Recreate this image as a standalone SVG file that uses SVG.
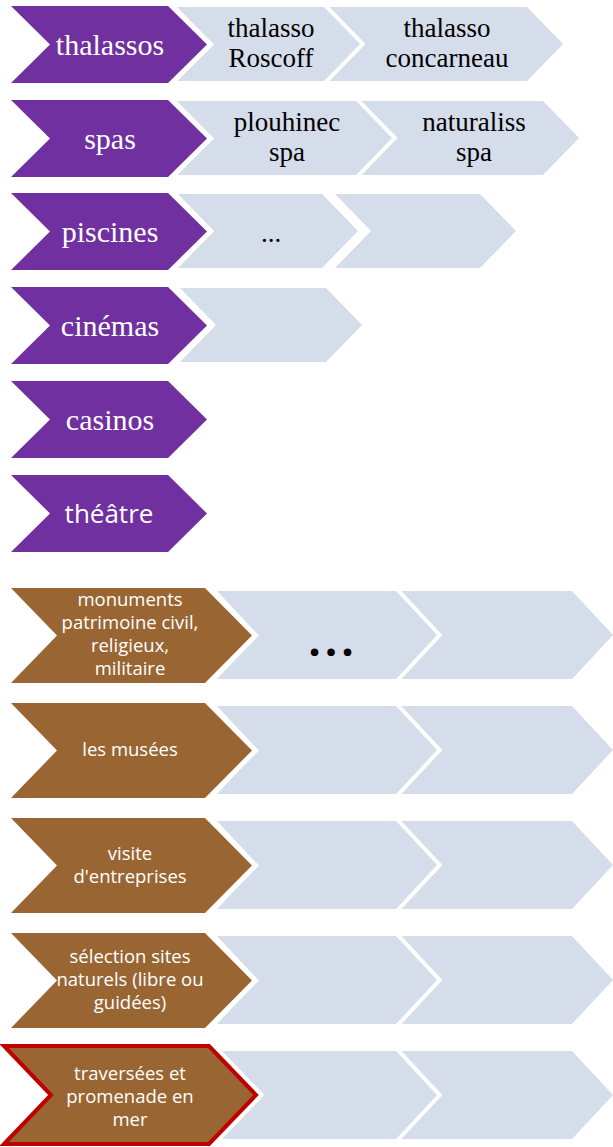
<svg xmlns="http://www.w3.org/2000/svg" width="613" height="1147" viewBox="0 0 613 1147">
<style>
.pur{fill:#7030A0;stroke:#fff;stroke-width:10;paint-order:stroke;stroke-linejoin:miter}
.brn{fill:#996633;stroke:#fff;stroke-width:10;paint-order:stroke}
.lt{fill:#D5DCEA}
.ltf{fill:#D5DCEA;stroke:#fff;stroke-width:8;paint-order:stroke}
.ser{font-family:"Liberation Serif","Times New Roman",serif;text-anchor:middle}
.sw{fill:#fff;font-size:30px}
.sb{fill:#000;font-size:27px}
.sans{font-family:"Open Sans","Liberation Sans",sans-serif;text-anchor:middle;fill:#fff}
.bt{font-size:18.5px}
</style>
<rect width="613" height="1147" fill="#fff"/>
<g id="connectors"/>

<!-- Row 1 thalassos -->
<g id="row-thalassos">
<polygon class="lt" points="320,7 527,7 563,44 527,81 320,81 356,44"/>
<polygon class="ltf" points="177,7 324,7 360,44 324,81 177,81 213,44"/>
<polygon class="pur" points="11,6 168,6 207,44.5 168,83 11,83 50,44.5"/>
<text class="ser sw" x="110" y="55">thalassos</text>
<text class="ser sb" x="271" y="37">thalasso</text>
<text class="ser sb" x="271" y="67">Roscoff</text>
<text class="ser sb" x="447" y="37">thalasso</text>
<text class="ser sb" x="447" y="67">concarneau</text>
</g>

<!-- Row 2 spas -->
<g id="row-spas">
<polygon class="lt" points="355,101 543,101 579,138 543,175 355,175 391,138"/>
<polygon class="ltf" points="177,101 356,101 392,138 356,175 177,175 213,138"/>
<polygon class="pur" points="11,100 168,100 207,138.5 168,177 11,177 50,138.5"/>
<text class="ser sw" x="110" y="149">spas</text>
<text class="ser sb" x="287" y="131">plouhinec</text>
<text class="ser sb" x="287" y="161">spa</text>
<text class="ser sb" x="474" y="131">naturaliss</text>
<text class="ser sb" x="474" y="161">spa</text>
</g>

<!-- Row 3 piscines -->
<g id="row-piscines">
<polygon class="lt" points="335,194 480,194 516,231 480,268 335,268 371,231"/>
<polygon class="ltf" points="178,194 322,194 358,231 322,268 178,268 214,231"/>
<polygon class="pur" points="11,193 168,193 207,231.5 168,270 11,270 50,231.5"/>
<text class="ser sw" x="110" y="242">piscines</text>
<text class="ser sb" x="271" y="242">...</text>
</g>

<!-- Row 4 cinémas -->
<g id="row-cinemas">
<polygon class="lt" points="180,288 326,288 362,325 326,362 180,362 216,325"/>
<polygon class="pur" points="11,287 168,287 207,325.5 168,364 11,364 50,325.5"/>
<text class="ser sw" x="110" y="336">cinémas</text>
</g>

<!-- Row 5 casinos -->
<g id="row-casinos">
<polygon class="pur" points="11,381 168,381 207,419.5 168,458 11,458 50,419.5"/>
<text class="ser sw" x="110" y="430">casinos</text>
</g>

<!-- Row 6 théâtre -->
<g id="row-theatre">
<polygon class="pur" points="11,475 168,475 207,513.5 168,552 11,552 50,513.5"/>
<text class="sans" style="font-size:26px" x="109" y="523">théâtre</text>
</g>

<!-- Bottom section -->
<g id="row-monuments">
<polygon class="lt" points="392,591 572,591 613,635 572,679 392,679 433,635"/>
<polygon class="ltf" points="217,591 396,591 437,635 396,679 217,679 258,635"/>
<polygon class="brn" points="11,588 205,588 252,635.5 205,683 11,683 57,635.5"/>
<text class="sans bt" x="130" y="606">monuments</text>
<text class="sans bt" x="130" y="629">patrimoine civil,</text>
<text class="sans bt" x="130" y="652">religieux,</text>
<text class="sans bt" x="130" y="675">militaire</text>
<text x="333" y="656" style="font-family:'Open Sans','Liberation Sans',sans-serif;font-weight:bold;font-size:44px;letter-spacing:4px;text-anchor:middle;fill:#000">...</text>
</g>

<g id="row-musees">
<polygon class="lt" points="392,706 572,706 613,750 572,794 392,794 433,750"/>
<polygon class="ltf" points="217,706 396,706 437,750 396,794 217,794 258,750"/>
<polygon class="brn" points="11,703 205,703 252,750.5 205,798 11,798 57,750.5"/>
<text class="sans bt" x="130" y="756">les musées</text>
</g>

<g id="row-entreprises">
<polygon class="lt" points="392,821 572,821 613,865 572,909 392,909 433,865"/>
<polygon class="ltf" points="217,821 396,821 437,865 396,909 217,909 258,865"/>
<polygon class="brn" points="11,818 205,818 252,865.5 205,913 11,913 57,865.5"/>
<text class="sans bt" x="130" y="860">visite</text>
<text class="sans bt" x="130" y="883">d'entreprises</text>
</g>

<g id="row-sites">
<polygon class="lt" points="392,936 572,936 613,980 572,1024 392,1024 433,980"/>
<polygon class="ltf" points="217,936 396,936 437,980 396,1024 217,1024 258,980"/>
<polygon class="brn" points="11,933 205,933 252,980.5 205,1028 11,1028 57,980.5"/>
<text class="sans bt" x="130" y="963">sélection sites</text>
<text class="sans bt" x="130" y="986">naturels (libre ou</text>
<text class="sans bt" x="130" y="1009">guidées)</text>
</g>

<g id="row-traversees">
<polygon class="lt" points="392,1051 572,1051 613,1095 572,1139 392,1139 433,1095"/>
<polygon class="ltf" points="217,1051 396,1051 437,1095 396,1139 217,1139 258,1095"/>
<polygon points="4,1046 209,1046 256,1095 209,1144 4,1144 51,1095" fill="none" stroke="#fff" stroke-width="12"/>
<polygon points="4,1046 209,1046 256,1095 209,1144 4,1144 51,1095" fill="#996633" stroke="#C00000" stroke-width="4"/>
<text class="sans bt" x="130" y="1080">traversées et</text>
<text class="sans bt" x="130" y="1103">promenade en</text>
<text class="sans bt" x="130" y="1126">mer</text>
</g>
</svg>
